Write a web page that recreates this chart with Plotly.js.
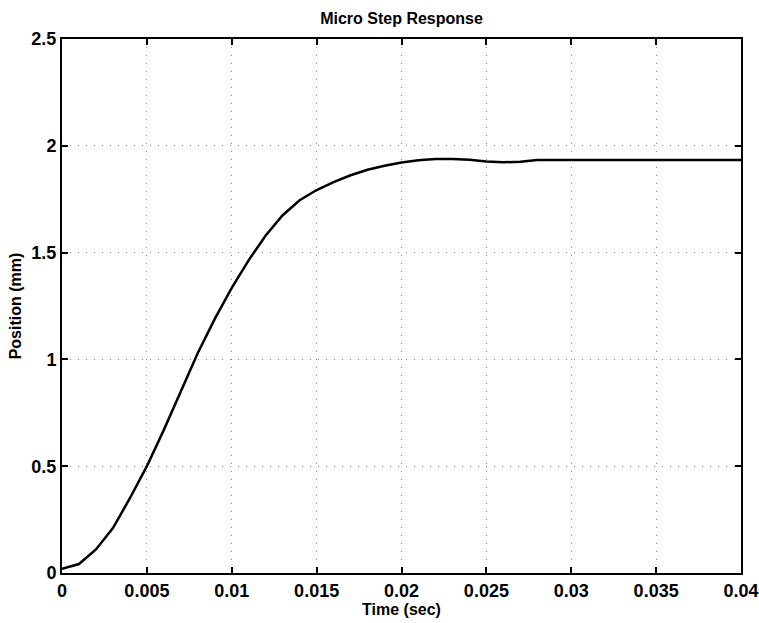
<!DOCTYPE html>
<html>
<head>
<meta charset="utf-8">
<script src="https://cdn.plot.ly/plotly-3.0.1.min.js"></script>
<style>html,body{margin:0;padding:0;background:#fff;}#chart{width:759px;height:623px;}</style>
</head>
<body>
<div id="chart"></div>
<script>
// Time samples (sec)
const timeSec = [0,0.001,0.002,0.003,0.004,0.005,0.006,0.007,0.008,0.009,0.010,
  0.011,0.012,0.013,0.014,0.015,0.016,0.017,0.018,0.019,0.020,
  0.021,0.022,0.023,0.024,0.025,0.026,0.027,0.028,0.029,0.030,
  0.031,0.032,0.033,0.034,0.035,0.036,0.037,0.038,0.039,0.040];
// Position (mm)
const positionMm = [0.02,0.042,0.11,0.21,0.35,0.50,0.67,0.85,1.03,1.19,1.335,
  1.465,1.58,1.675,1.745,1.793,1.83,1.862,1.888,1.907,1.922,
  1.932,1.938,1.938,1.935,1.926,1.923,1.925,1.933,1.934,1.934,
  1.934,1.934,1.934,1.934,1.934,1.934,1.934,1.934,1.934,1.934];
const xTicks = [0,0.005,0.01,0.015,0.02,0.025,0.03,0.035,0.04];
const xTickText = ['0','0.005','0.01','0.015','0.02','0.025','0.03','0.035','0.04'];
const yTicks = [0,0.5,1,1.5,2,2.5];
const yTickText = ['0','0.5','1','1.5','2','2.5'];

const font = 'Liberation Sans, Arial, Helvetica, sans-serif';
const axisCommon = {
  showline: true, linecolor: '#000', linewidth: 2, mirror: 'ticks',
  ticks: 'inside', ticklen: 6, tickwidth: 2, tickcolor: '#000',
  showgrid: true, gridcolor: '#8a8a8a', gridwidth: 1, griddash: '1px,7px',
  zeroline: false, tickmode: 'array',
  tickfont: {family: font, size: 18, color: '#000', weight: 'bold'}
};
Plotly.newPlot('chart', [{
  x: timeSec, y: positionMm, type: 'scatter', mode: 'lines',
  line: {color: '#000', width: 2.5}, hoverinfo: 'skip'
}], {
  width: 759, height: 623,
  margin: {l: 62, r: 18, t: 39, b: 50},
  paper_bgcolor: '#fff', plot_bgcolor: '#fff',
  showlegend: false,
  title: {text: 'Micro Step Response', x: 0.529, xanchor: 'center', y: 0.97, yanchor: 'middle',
    font: {family: font, size: 16, color: '#000', weight: 'bold'}},
  xaxis: Object.assign({}, axisCommon, {
    range: [0, 0.04], tickvals: xTicks, ticktext: xTickText,
    title: {text: 'Time (sec)', standoff: 1, font: {family: font, size: 16, color: '#000', weight: 'bold'}}
  }),
  yaxis: Object.assign({}, axisCommon, {
    range: [0, 2.5], tickvals: yTicks, ticktext: yTickText,
    title: {text: 'Position (mm)', standoff: 6, font: {family: font, size: 16, color: '#000', weight: 'bold'}}
  })
}, {displayModeBar: false, staticPlot: true});
</script>
</body>
</html>
